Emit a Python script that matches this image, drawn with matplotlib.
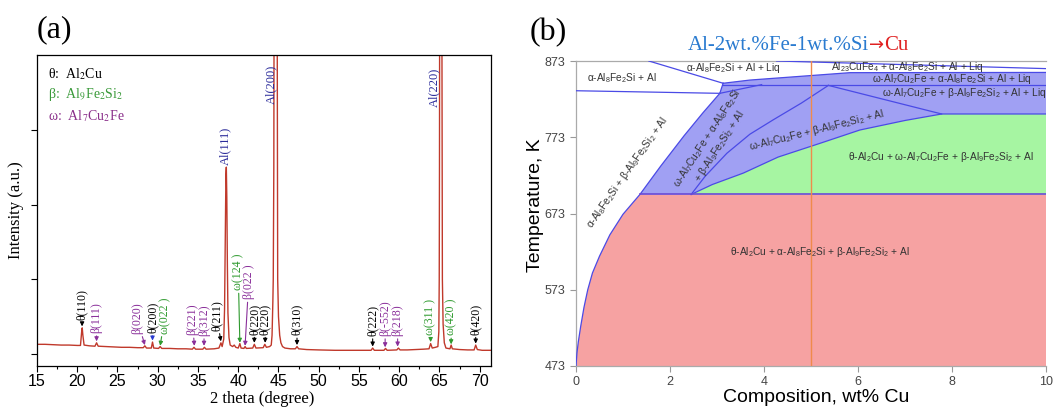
import matplotlib
matplotlib.use('Agg')
import matplotlib.pyplot as plt
from matplotlib.patches import Polygon

plt.rcParams['mathtext.fontset'] = 'custom'
plt.rcParams['mathtext.rm'] = 'Liberation Sans'
plt.rcParams['mathtext.it'] = 'Liberation Sans:italic'
plt.rcParams['mathtext.bf'] = 'Liberation Sans:bold'

SERIF = ['Liberation Serif', 'DejaVu Serif']
SANS = ['Liberation Sans', 'DejaVu Sans']

# ---------------- panel (a) data: XRD trace ----------------
two_theta = [15.0, 16.0, 17.0, 18.0, 19.0, 20.0, 20.4, 20.55, 20.62, 20.7, 20.85, 21.5, 22.2, 22.4, 22.6,
             23.5, 24.5, 25.5, 26.5, 27.5, 28.2, 28.4, 28.6, 29.2, 29.35, 29.5, 30.1, 30.3, 30.5, 31.5,
             32.5, 33.5, 34.3, 34.5, 34.7, 35.6, 35.8, 36.0, 37.0, 37.6, 37.85, 38.0, 38.2, 38.3, 38.4,
             38.47, 38.52, 38.58, 38.65, 38.72, 38.85, 39.0, 39.3, 39.5, 39.7, 40.0, 40.2, 40.35, 40.7,
             40.85, 41.0, 41.8, 42.0, 42.2, 43.1, 43.3, 43.5, 43.9, 44.1, 44.2, 44.3, 44.35, 44.42, 44.45,
             44.84, 44.87, 44.9, 45.0, 45.15, 45.3, 45.5, 45.8, 46.5, 47.1, 47.3, 47.5, 48.5, 50.0, 52.0,
             54.0, 55.5, 56.5, 56.7, 56.9, 58.1, 58.3, 58.5, 59.7, 59.9, 60.1, 61.0, 62.0, 63.0, 63.7,
             63.9, 64.1, 64.5, 64.8, 64.92, 64.97, 65.0, 65.02, 65.3, 65.33, 65.36, 65.45, 65.6, 65.8,
             66.3, 66.45, 66.6, 67.5, 68.5, 69.3, 69.5, 69.7, 70.3, 71.4]
intensity = [0.13, 0.13, 0.125, 0.12, 0.12, 0.115, 0.115, 0.30, 0.35, 0.25, 0.12, 0.11, 0.105, 0.15, 0.105,
             0.10, 0.095, 0.09, 0.09, 0.085, 0.085, 0.11, 0.08, 0.08, 0.16, 0.08, 0.075, 0.10, 0.075, 0.075,
             0.07, 0.07, 0.065, 0.09, 0.065, 0.065, 0.09, 0.065, 0.07, 0.08, 0.15, 0.10, 0.20, 0.60, 1.70,
             2.40, 2.50, 2.10, 1.20, 0.55, 0.22, 0.12, 0.10, 0.12, 0.09, 0.08, 0.14, 0.08, 0.075,
             0.10, 0.075, 0.08, 0.13, 0.08, 0.085, 0.13, 0.09, 0.10, 0.12, 0.25, 0.70, 1.0, 2.5, 4.5,
             4.5, 2.5, 1.0, 0.5, 0.25, 0.15, 0.10, 0.08, 0.07, 0.07, 0.10, 0.07, 0.06, 0.055, 0.05,
             0.05, 0.05, 0.05, 0.08, 0.05, 0.05, 0.075, 0.05, 0.055, 0.08, 0.055, 0.055, 0.06, 0.065, 0.07,
             0.14, 0.08, 0.09, 0.10, 0.30, 1.0, 2.5, 4.5, 4.5, 2.5, 1.0, 0.4, 0.15, 0.08,
             0.07, 0.12, 0.07, 0.06, 0.055, 0.055, 0.12, 0.06, 0.05, 0.05]

# peak labels: text, phase, text x, arrow-tip x, arrow-tip y, text bottom y
peak_labels = ['θ(110)', 'β(111)', 'β(020)', 'θ(200)', 'ω(022 )', 'β(221)', 'β(312)', 'θ(211)',
               'ω(124 )', 'β(022 )', 'θ(220)', 'θ(220)', 'θ(310)', 'θ(222)', 'β(-552)', 'β(218)',
               'ω(311 )', 'ω(420 )', 'θ(420)']
peak_phase = ['θ', 'β', 'β', 'θ', 'ω', 'β', 'β', 'θ', 'ω', 'β', 'θ', 'θ', 'θ', 'θ', 'β', 'β', 'ω', 'ω', 'θ']
label_x = [20.6, 22.4, 27.4, 29.35, 30.9, 34.3, 35.75, 37.3, 40.0, 41.3, 42.0, 43.35, 47.3, 56.7,
           58.25, 59.8, 63.9, 66.45, 69.5]
tip_x = [20.6, 22.4, 28.4, 29.35, 30.3, 34.55, 35.75, 37.85, 40.2, 40.85, 42.0, 43.35, 47.3, 56.7,
         58.25, 59.8, 63.9, 66.45, 69.5]
tip_y = [0.37, 0.17, 0.12, 0.18, 0.11, 0.11, 0.11, 0.17, 0.15, 0.11, 0.15, 0.15, 0.12, 0.10, 0.09,
         0.10, 0.16, 0.13, 0.14]
text_y = [0.46, 0.28, 0.27, 0.28, 0.27, 0.25, 0.24, 0.31, 0.85, 0.73, 0.26, 0.26, 0.25, 0.24, 0.24,
          0.24, 0.26, 0.25, 0.26]

al_labels = ['Al(111)', 'Al(200)', 'Al(220)']
al_x = [38.4, 44.1, 64.3]
al_y = [2.53, 3.35, 3.3]

legend_rows = [('θ', 'Al$_2$Cu'), ('β', 'Al$_9$Fe$_2$Si$_2$'), ('ω', 'Al$_7$Cu$_2$Fe')]

# ---------------- panel (b) data: phase diagram ----------------
solvus_low_x = [0.0, 0.02, 0.05, 0.10, 0.17, 0.25, 0.35, 0.50, 0.72, 1.00, 1.36]
solvus_low_T = [473, 490, 505, 525, 550, 573, 595, 617, 645, 672, 698]
solvus_up_x = [1.36, 1.80, 2.30, 2.70, 3.06]
solvus_up_T = [698, 735, 775, 805, 830.6]
omega_x = [2.45, 2.75, 3.21, 3.70, 4.20, 4.80, 5.37]
omega_T = [698, 722, 752, 777, 796, 818, 841]
green_x = [2.45, 2.90, 3.56, 4.30, 5.19, 6.04, 7.00, 7.78]
green_T = [698, 711, 726, 747, 765, 782.5, 795, 803.5]
liq_x = [5.37, 7.78, 10.0]
liq_T = [841, 803.5, 803.5]
band_top_x = [3.13, 3.70, 5.83, 10.0]
band_top_T = [843.8, 848, 857.7, 858]
left_line_x = [0.0, 3.06, 3.13]
left_line_T = [834, 830.6, 843.8]
topleft_x = [1.55, 3.13]
topleft_T = [873, 843.8]
top_slope_x = [4.27, 10.0]
top_slope_T = [873, 863]
h842_x = [3.13, 10.0]
h842_T = [842, 842]
ls_x = [3.06, 3.95]
ls_T = [830.6, 842]
eutectoid_T = 698
alloy_cu = 5.0

fig = plt.figure(figsize=(10.61, 4.07), dpi=100)

# ======================= panel (a) =======================
axa = fig.add_axes([37 / 1061, 41 / 407, 454 / 1061, 311 / 407])
axa.plot(two_theta, intensity, color='#c0392b', lw=1.0)
axa.set_xlim(15, 71.4)
axa.set_ylim(-0.16, 4.0)
axa.set_xticks(range(15, 71, 5))
axa.set_xticks([x + 2.5 for x in range(15, 70, 5)], minor=True)
axa.set_yticks([0, 1, 2, 3])
axa.set_yticklabels([])
axa.tick_params(axis='both', which='major', direction='out', length=4, width=0.8, pad=2)
axa.tick_params(axis='x', which='minor', direction='out', length=2.5, width=0.8)
for lab in axa.get_xticklabels():
    lab.set_family(SANS)
    lab.set_fontsize(11.5)
for s in axa.spines.values():
    s.set_linewidth(0.9)

phase_col_anno = {'θ': 'black', 'β': '#8a2f9a', 'ω': '#2e9a2e'}
for t, ph, lx, tx, ty, lyb in zip(peak_labels, peak_phase, label_x, tip_x, tip_y, text_y):
    c = phase_col_anno[ph]
    ac = c
    if t == 'θ(200)':
        ac = '#2a3bd0'
    axa.annotate(t, xy=(tx, ty), xytext=(lx, lyb), rotation=90, ha='center', va='bottom',
                 color=c, fontsize=8.6, family=SERIF, math_fontfamily='stix',
                 arrowprops=dict(arrowstyle='-|>', color=ac, lw=0.8, mutation_scale=6,
                                 shrinkA=0, shrinkB=0))
for t, x, y in zip(al_labels, al_x, al_y):
    axa.text(x, y, t, rotation=90, ha='center', va='bottom', color='#2a2a9a',
             fontsize=9, family=SERIF)

leg_cols = ['black', '#3a9a3a', '#8a2f8a']
for i, ((sym, formula), c) in enumerate(zip(legend_rows, leg_cols)):
    axa.text(0.025, 0.94 - i * 0.068, f'{sym}:  {formula}', transform=axa.transAxes, color=c,
             fontsize=10, family=SERIF, math_fontfamily='stix', va='center', ha='left')

fig.text(16 / 1061, 1 - 210 / 407, 'Intensity (a.u.)', rotation=90, ha='center', va='center',
         fontsize=12, family=SERIF)
fig.text(262 / 1061, 1 - 399 / 407, '2 theta (degree)', ha='center', va='center',
         fontsize=12, family=SERIF)
fig.text(37 / 1061, 1 - 30 / 407, '(a)', ha='left', va='center', fontsize=23, family=SERIF)

# ======================= panel (b) =======================
axb = fig.add_axes([576 / 1061, 41 / 407, 470 / 1061, 305 / 407])
axb.set_xlim(0, 10)
axb.set_ylim(473, 873)
red_col = '#f6a2a2'
blue_col = '#a0a0f3'
green_col = '#a6f5a2'
line_col = '#4a4ae6'

red_poly = list(zip(solvus_low_x, solvus_low_T)) + [(10, eutectoid_T), (10, 473)]
axb.add_patch(Polygon(red_poly, closed=True, facecolor=red_col, edgecolor='none', zorder=1))
green_poly = list(zip(green_x, green_T)) + [(10, 803.5), (10, eutectoid_T)]
axb.add_patch(Polygon(green_poly, closed=True, facecolor=green_col, edgecolor='none', zorder=1))
blue_poly = (list(zip(solvus_up_x, solvus_up_T)) + [(3.13, 843.8)] + list(zip(band_top_x, band_top_T))
             + [(10, 803.5)] + list(zip(green_x[::-1], green_T[::-1])))
axb.add_patch(Polygon(blue_poly, closed=True, facecolor=blue_col, edgecolor='none', zorder=1))

lkw = dict(color=line_col, lw=0.9, zorder=3)
axb.plot(solvus_low_x + solvus_up_x, solvus_low_T + solvus_up_T, **lkw)
axb.plot(omega_x, omega_T, **lkw)
axb.plot(green_x, green_T, **lkw)
axb.plot(liq_x, liq_T, **lkw)
axb.plot(band_top_x, band_top_T, **lkw)
axb.plot(left_line_x, left_line_T, **lkw)
axb.plot(topleft_x, topleft_T, **lkw)
axb.plot(top_slope_x, top_slope_T, **lkw)
axb.plot(h842_x, h842_T, **lkw)
axb.plot(ls_x, ls_T, **lkw)
axb.plot([solvus_low_x[-1], 10], [eutectoid_T, eutectoid_T], color='#6a4ad6', lw=1.2, zorder=3)
axb.axvline(alloy_cu, color='#f08a4b', lw=1.0, zorder=4)

tc = '#333333'
tkw = dict(fontsize=7.3, color=tc, family=SANS, math_fontfamily='custom', zorder=5)
axb.text(0.23, 850, 'α-Al$_8$Fe$_2$Si + Al', ha='left', va='center', **tkw)
axb.text(3.35, 864, 'α-Al$_8$Fe$_2$Si + Al + Liq', ha='center', va='center', **tkw)
axb.text(7.05, 865.5, 'Al$_{23}$CuFe$_4$ + α-Al$_8$Fe$_2$Si + Al + Liq', ha='center', va='center', **tkw)
axb.text(7.99, 849.5, 'ω-Al$_7$Cu$_2$Fe + α-Al$_8$Fe$_2$Si + Al + Liq', ha='center', va='center', **tkw)
axb.text(8.25, 830.5, 'ω-Al$_7$Cu$_2$Fe + β-Al$_9$Fe$_2$Si$_2$ + Al + Liq', ha='center', va='center', **tkw)
axb.text(5.12, 782.5, 'ω-Al$_7$Cu$_2$Fe + β-Al$_9$Fe$_2$Si$_2$ + Al', ha='center', va='center',
         rotation=14, rotation_mode='anchor', **tkw)
axb.text(7.77, 747, 'θ-Al$_2$Cu + ω-Al$_7$Cu$_2$Fe + β-Al$_9$Fe$_2$Si$_2$ + Al', ha='center', va='center', **tkw)
axb.text(5.2, 622, 'θ-Al$_2$Cu + α-Al$_8$Fe$_2$Si + β-Al$_9$Fe$_2$Si$_2$ + Al', ha='center', va='center', **tkw)
axb.text(1.09, 727, 'α-Al$_8$Fe$_2$Si + β-Al$_9$Fe$_2$Si$_2$ + Al', ha='center', va='center',
         rotation=55, rotation_mode='anchor', **tkw)
axb.text(2.92, 766, 'ω-Al$_7$Cu$_2$Fe + α-Al$_8$Fe$_2$Si\n+ β-Al$_9$Fe$_2$Si$_2$ + Al', ha='center',
         va='center', multialignment='center', rotation=57, rotation_mode='anchor', linespacing=1.1, **tkw)

axb.set_xticks([0, 2, 4, 6, 8, 10])
axb.set_yticks([473, 573, 673, 773, 873])
axb.tick_params(direction='out', length=4, width=0.8, color='#999999', labelcolor='#444444', labelsize=9)
for lab in axb.get_xticklabels() + axb.get_yticklabels():
    lab.set_family(SANS)
axb.spines['right'].set_visible(False)
for k in ['left', 'bottom', 'top']:
    axb.spines[k].set_color('#aaaaaa')
    axb.spines[k].set_linewidth(0.9)

fig.text(535 / 1061, 1 - 205 / 407, 'Temperature, K', rotation=90, ha='center', va='center',
         fontsize=14, family=SANS)
fig.text(816 / 1061, 1 - 398 / 407, 'Composition, wt% Cu', ha='center', va='center',
         fontsize=14, family=SANS)
fig.text(530 / 1061, 1 - 33 / 407, '(b)', ha='left', va='center', fontsize=23, family=SERIF)

t1 = fig.text(688 / 1061, 1 - 45 / 407, 'Al-2wt.%Fe-1wt.%Si', ha='left', va='center',
              fontsize=15, family=SERIF, color='#2a7bd0')
fig.canvas.draw()
rend = fig.canvas.get_renderer()
bb = t1.get_window_extent(renderer=rend)
t2 = fig.text(bb.x1 / fig.bbox.width, 1 - 45 / 407, '→', ha='left', va='center',
              fontsize=13, family=['DejaVu Sans'], color='#e02020')
bb2 = t2.get_window_extent(renderer=rend)
fig.text(bb2.x1 / fig.bbox.width, 1 - 45 / 407, 'Cu', ha='left', va='center',
         fontsize=15, family=SERIF, color='#e02020')

fig.savefig('out.png', dpi=100)
